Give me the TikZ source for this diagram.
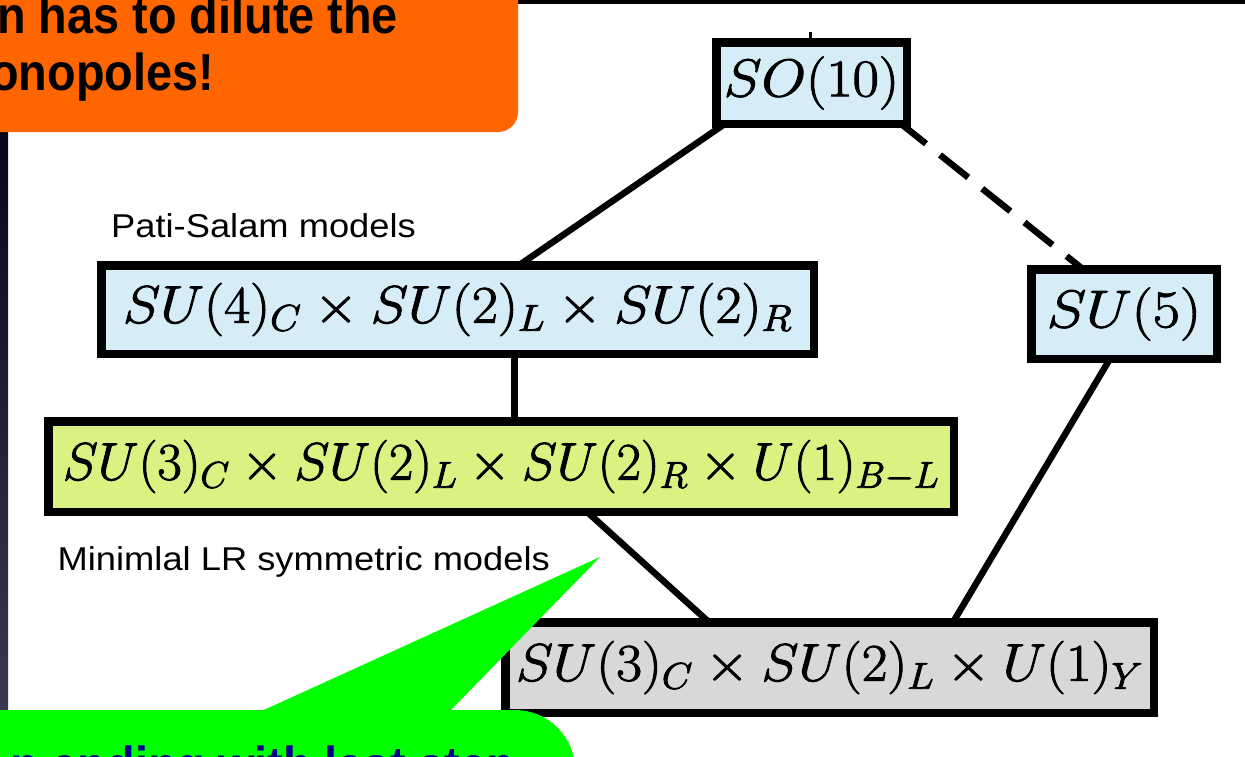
\RequirePackage{fix-cm}
\documentclass[tikz,border=0pt]{standalone}
\usepackage[no-math]{fontspec}
\usepackage{graphicx}
\newfontfamily\arialfont{Liberation Sans}

\pgfdeclarelayer{bg}
\pgfdeclarelayer{back}
\pgfsetlayers{bg,back,main}

\definecolor{boxblue}{RGB}{214,236,247}
\definecolor{boxlime}{RGB}{218,242,130}
\definecolor{boxgray}{RGB}{216,216,216}
\definecolor{slideorange}{RGB}{255,102,0}
\definecolor{slidegreen}{RGB}{0,255,0}
\definecolor{bubbletext}{RGB}{0,0,140}
\definecolor{stripdark}{RGB}{4,4,24}
\definecolor{striplight}{RGB}{62,62,82}

% group name, set large, slightly widened and with thickened strokes
\newcommand{\grp}[2][1.05]{\scalebox{#1}[1]{\fontsize{53}{60}\selectfont
  \special{pdf:literal direct 2 Tr 0.9 w}$#2$\special{pdf:literal direct 0 Tr}}}
% bold slide text, slightly narrowed
\newcommand{\slidestr}[1]{\scalebox{0.9}[1]{#1}}

\tikzset{
  group/.style={draw=black, line width=8.5pt, inner sep=0pt, outer sep=0pt},
  link/.style={line width=6.5pt, shorten <=-4pt, shorten >=-4pt},
  tag/.style={font=\arialfont\fontsize{33}{37}\selectfont, anchor=base west, inner sep=0pt},
  slidetext/.style={font=\arialfont\bfseries\fontsize{52}{58}\selectfont, anchor=base east, inner sep=0pt},
}

\begin{document}
\begin{tikzpicture}[x=1pt,y=-1pt]
\useasboundingbox (0,0) rectangle (1245,756);
\begin{pgfonlayer}{bg}
  \fill[white] (0,0) rectangle (1245,756);
\end{pgfonlayer}

% slide frame pieces
\fill[black] (480,0) rectangle (1245,4);
\shade[top color=stripdark, bottom color=striplight] (0,100) rectangle (8,756);

% symmetry groups
\node[group, fill=boxblue, minimum width=190.5pt, minimum height=81.5pt] (so) at (811.5,83) {\grp[1.08]{SO(10)}};
\node[group, fill=boxblue, minimum width=712.5pt, minimum height=88.5pt] (ps) at (457.5,309.5) {\grp[1.07]{SU(4)_C \times SU(2)_L \times SU(2)_R}};
\node[group, fill=boxblue, minimum width=185.5pt, minimum height=89.5pt] (su) at (1124,314) {\grp[1.12]{SU(5)}};
\node[group, fill=boxlime, minimum width=905.5pt, minimum height=90.5pt] (lr) at (501,466.5) {\grp[1.0]{SU(3)_C \times SU(2)_L \times SU(2)_R \times U(1)_{B-L}}};
\node[group, fill=boxgray, minimum width=648.5pt, minimum height=90.5pt] (sm) at (829.5,667.5) {\grp[1.06]{SU(3)_C \times SU(2)_L \times U(1)_Y}};

% breaking chains
\begin{pgfonlayer}{back}
  \draw[line width=2.5pt] ([xshift=-1pt]so.north) -- ++(0,-10);
  \draw[link] ([xshift=-86.5pt]so.south) -- ([xshift=61.5pt]ps.north);
  \draw[link, dash pattern=on 36pt off 18pt] ([xshift=89.5pt]so.south) -- ([xshift=-41pt]su.north);
  \draw[link] ([xshift=57pt]ps.south) -- ([xshift=13.5pt]lr.north);
  \draw[link] ([xshift=86pt]lr.south) -- ([xshift=-120.5pt]sm.north);
  \draw[link] ([xshift=-14pt]su.south) -- ([xshift=123.5pt]sm.north);
\end{pgfonlayer}

% model family labels
\node[tag] (pslabel) at (111,237) {\scalebox{1.1}[1]{Pati-Salam models}};
\node[tag] (lrlabel) at (57.5,570) {\scalebox{1.1}[1]{Minimlal LR symmetric models}};

% orange callout
\fill[slideorange, rounded corners=20pt] (-60,-60) rectangle (518,132);
\node[slidetext] (headA) at (398,33) {\slidestr{n has to dilute the}};
\node[slidetext] (headB) at (214,90) {\slidestr{onopoles!}};

% green speech bubble
\fill[slidegreen] (255,714) -- (600,557) -- (447,714) -- cycle;
\fill[slidegreen, rounded corners=60pt] (-100,710) rectangle (575,900);
\node[slidetext, text=bubbletext] (bubble) at (515,783) {\slidestr{n ending with last step}};
\end{tikzpicture}
\end{document}
